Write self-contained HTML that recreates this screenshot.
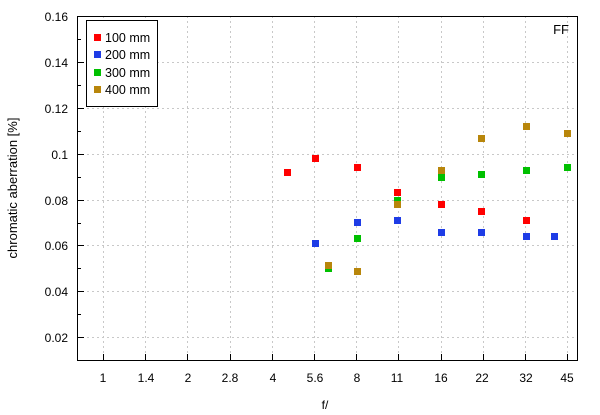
<!DOCTYPE html><html><head><style>body{margin:0;background:#fff}svg{display:block;font-family:"Liberation Sans",sans-serif}</style></head><body>
<svg width="600" height="415" viewBox="0 0 600 415" xmlns="http://www.w3.org/2000/svg">
<g stroke="#c8c8c8" stroke-dasharray="2,3" stroke-width="1">
<line x1="77" x2="578" y1="62.5" y2="62.5"/><line x1="77" x2="578" y1="108.5" y2="108.5"/><line x1="77" x2="578" y1="154.5" y2="154.5"/><line x1="77" x2="578" y1="200.5" y2="200.5"/><line x1="77" x2="578" y1="245.5" y2="245.5"/><line x1="77" x2="578" y1="291.5" y2="291.5"/><line x1="77" x2="578" y1="337.5" y2="337.5"/>
<line x1="103.5" x2="103.5" y1="16" y2="361"/><line x1="145.5" x2="145.5" y1="16" y2="361"/><line x1="187.5" x2="187.5" y1="16" y2="361"/><line x1="230.5" x2="230.5" y1="16" y2="361"/><line x1="272.5" x2="272.5" y1="16" y2="361"/><line x1="314.5" x2="314.5" y1="16" y2="361"/><line x1="356.5" x2="356.5" y1="16" y2="361"/><line x1="398.5" x2="398.5" y1="16" y2="361"/><line x1="441.5" x2="441.5" y1="16" y2="361"/><line x1="483.5" x2="483.5" y1="16" y2="361"/><line x1="525.5" x2="525.5" y1="16" y2="361"/><line x1="567.5" x2="567.5" y1="16" y2="361"/>
</g>
<rect x="77.5" y="16.5" width="500" height="344" fill="none" stroke="#000"/>
<g stroke="#000">
<line x1="77" x2="84" y1="62.5" y2="62.5"/><line x1="77" x2="84" y1="108.5" y2="108.5"/><line x1="77" x2="84" y1="154.5" y2="154.5"/><line x1="77" x2="84" y1="200.5" y2="200.5"/><line x1="77" x2="84" y1="245.5" y2="245.5"/><line x1="77" x2="84" y1="291.5" y2="291.5"/><line x1="77" x2="84" y1="337.5" y2="337.5"/>
<line x1="77" x2="81" y1="39.5" y2="39.5"/><line x1="77" x2="81" y1="85.5" y2="85.5"/><line x1="77" x2="81" y1="131.5" y2="131.5"/><line x1="77" x2="81" y1="177.5" y2="177.5"/><line x1="77" x2="81" y1="223.5" y2="223.5"/><line x1="77" x2="81" y1="268.5" y2="268.5"/><line x1="77" x2="81" y1="314.5" y2="314.5"/>
<line x1="103.5" x2="103.5" y1="354" y2="361"/><line x1="145.5" x2="145.5" y1="354" y2="361"/><line x1="187.5" x2="187.5" y1="354" y2="361"/><line x1="230.5" x2="230.5" y1="354" y2="361"/><line x1="272.5" x2="272.5" y1="354" y2="361"/><line x1="314.5" x2="314.5" y1="354" y2="361"/><line x1="356.5" x2="356.5" y1="354" y2="361"/><line x1="398.5" x2="398.5" y1="354" y2="361"/><line x1="441.5" x2="441.5" y1="354" y2="361"/><line x1="483.5" x2="483.5" y1="354" y2="361"/><line x1="525.5" x2="525.5" y1="354" y2="361"/><line x1="567.5" x2="567.5" y1="354" y2="361"/>
</g>
<g font-size="12" fill="#000" text-anchor="end">
<text x="68" y="21">0.16</text><text x="68" y="67">0.14</text><text x="68" y="113">0.12</text><text x="68" y="159">0.1</text><text x="68" y="205">0.08</text><text x="68" y="250">0.06</text><text x="68" y="296">0.04</text><text x="68" y="342">0.02</text>
</g>
<g font-size="12" fill="#000" text-anchor="middle">
<text x="103" y="382">1</text><text x="146" y="382">1.4</text><text x="188" y="382">2</text><text x="230" y="382">2.8</text><text x="273" y="382">4</text><text x="315" y="382">5.6</text><text x="357" y="382">8</text><text x="397" y="382">11</text><text x="441" y="382">16</text><text x="482" y="382">22</text><text x="526" y="382">32</text><text x="567" y="382">45</text>
<text x="325" y="409">f/</text>
<text transform="translate(17,188) rotate(-90)" font-size="13">chromatic aberration [%]</text>
</g>
<text x="569" y="34" font-size="13" text-anchor="end">FF</text>
<rect x="86.5" y="20.5" width="71" height="86" fill="#fff" stroke="#000"/>
<g font-size="12.5"><rect x="94" y="34" width="7" height="7" fill="#ff0000"/><text x="105" y="42">100 mm</text>
<rect x="94" y="51" width="7" height="7" fill="#1e3ce6"/><text x="105" y="59">200 mm</text>
<rect x="94" y="69" width="7" height="7" fill="#00c000"/><text x="105" y="77">300 mm</text>
<rect x="94" y="86" width="7" height="7" fill="#b8860b"/><text x="105" y="94">400 mm</text></g>
<g fill="#ff0000"><rect x="284" y="169" width="7" height="7"/><rect x="312" y="155" width="7" height="7"/><rect x="354" y="164" width="7" height="7"/><rect x="394" y="189" width="7" height="7"/><rect x="438" y="201" width="7" height="7"/><rect x="478" y="208" width="7" height="7"/><rect x="523" y="217" width="7" height="7"/></g>
<g fill="#1e3ce6"><rect x="312" y="240" width="7" height="7"/><rect x="354" y="219" width="7" height="7"/><rect x="394" y="217" width="7" height="7"/><rect x="438" y="229" width="7" height="7"/><rect x="478" y="229" width="7" height="7"/><rect x="523" y="233" width="7" height="7"/><rect x="551" y="233" width="7" height="7"/></g>
<g fill="#00c000"><rect x="325" y="265" width="7" height="7"/><rect x="354" y="235" width="7" height="7"/><rect x="394" y="197" width="7" height="7"/><rect x="438" y="174" width="7" height="7"/><rect x="478" y="171" width="7" height="7"/><rect x="523" y="167" width="7" height="7"/><rect x="564" y="164" width="7" height="7"/></g>
<g fill="#b8860b"><rect x="325" y="262" width="7" height="7"/><rect x="354" y="268" width="7" height="7"/><rect x="394" y="201" width="7" height="7"/><rect x="438" y="167" width="7" height="7"/><rect x="478" y="135" width="7" height="7"/><rect x="523" y="123" width="7" height="7"/><rect x="564" y="130" width="7" height="7"/></g>
</svg></body></html>
